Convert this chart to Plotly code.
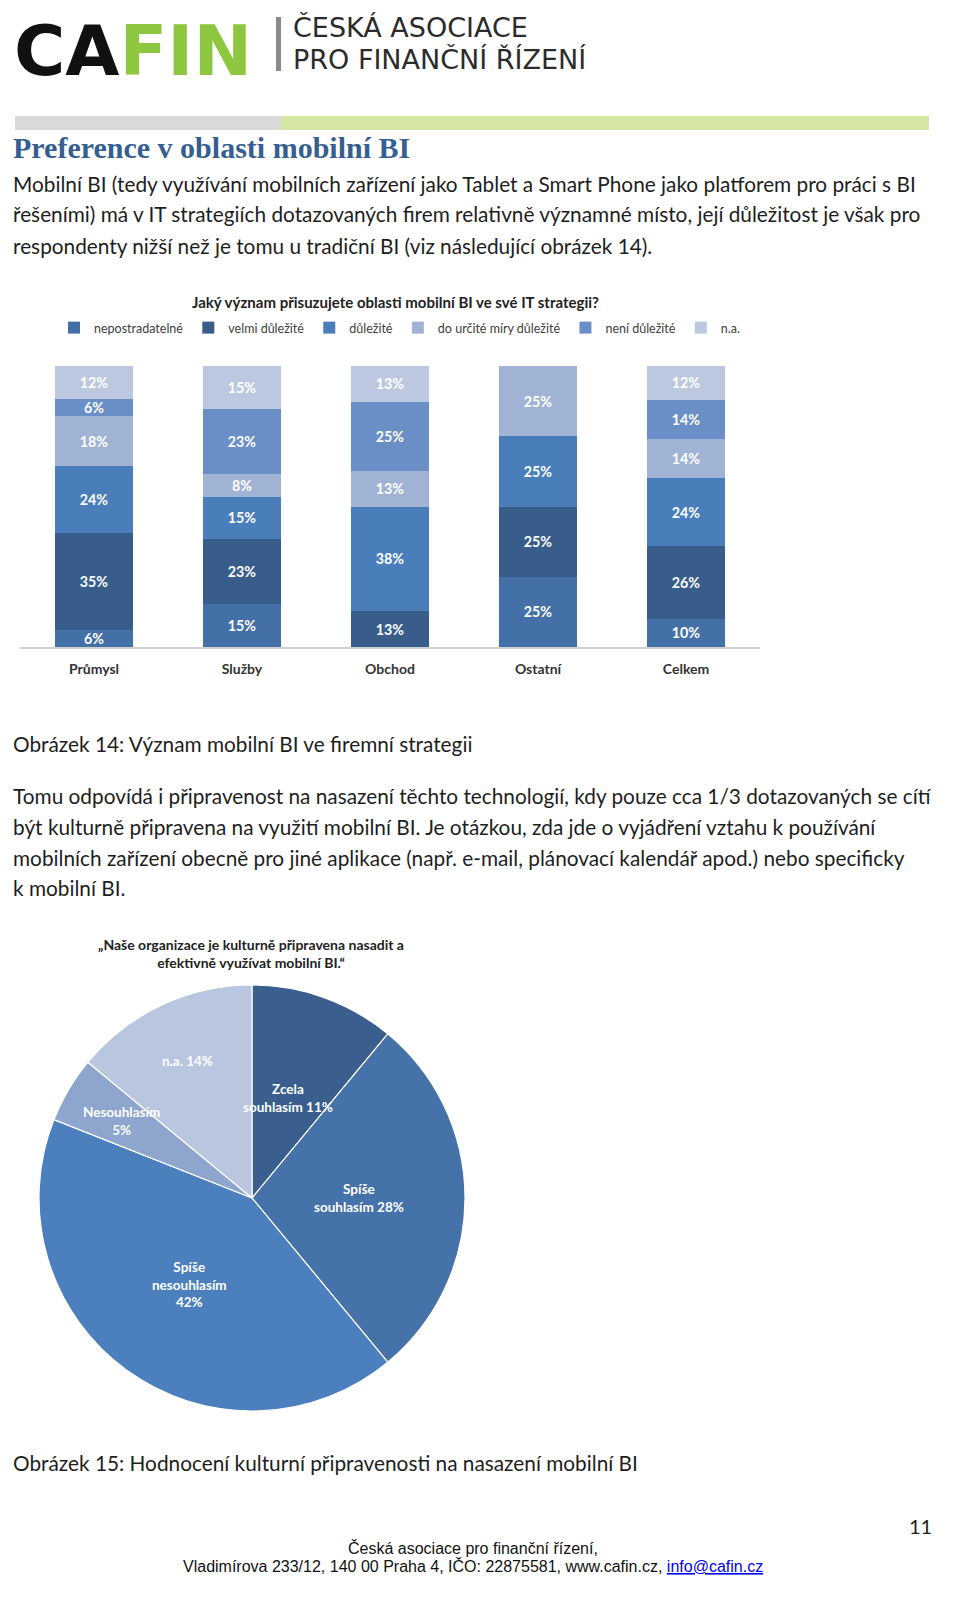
import math
import plotly.graph_objects as go

W, H = 960, 1621

def py(px):
    return 1 - px / H

def pxx(px):
    return px / W

# ---------------- data ----------------
bar_categories = ["Průmysl", "Služby", "Obchod", "Ostatní", "Celkem"]
bar_series = ["nepostradatelné", "velmi důležité", "důležité",
              "do určité míry důležité", "není důležité", "n.a."]
v_nepostradatelne = [6, 15, None, 25, 10]
v_velmi = [35, 23, 13, 25, 26]
v_dulezite = [24, 15, 38, 25, 24]
v_do_urcite = [18, 8, 13, 25, 14]
v_neni = [6, 23, 25, None, 14]
v_na = [12, 15, 13, None, 12]
bar_values = [v_nepostradatelne, v_velmi, v_dulezite, v_do_urcite, v_neni, v_na]
bar_colors = ["#4470A8", "#385D8A", "#4A7EBB", "#A0B3D5", "#6A8FC6", "#BCC8DF"]
bar_title = "Jaký význam přisuzujete oblasti mobilní BI ve své IT strategii?"

pie_labels = ["Zcela souhlasím", "Spíše souhlasím", "Spíše nesouhlasím",
              "Nesouhlasím", "n.a."]
pie_display = ["Zcela<br>souhlasím 11%", "Spíše<br>souhlasím 28%",
               "Spíše<br>nesouhlasím<br>42%", "Nesouhlasím<br>5%", "n.a. 14%"]
pie_values = [11, 28, 42, 5, 14]
pie_colors = ["#3A5F8E", "#4672AA", "#4B7FBD", "#8EA5CE", "#B9C6E0"]
pie_label_radius = [0.5, 0.5, 0.5, 0.71, 0.71]
pie_title = "„Naše organizace je kulturně připravena nasadit a<br>efektivně využívat mobilní BI.“"

heading = "Preference v oblasti mobilní BI"
para1 = [
    "Mobilní BI (tedy využívání mobilních zařízení jako Tablet a Smart Phone jako platforem pro práci s BI",
    "řešeními) má v IT strategiích dotazovaných firem relativně významné místo, její důležitost je však pro",
    "respondenty nižší než je tomu u tradiční BI (viz následující obrázek 14).",
]
caption14 = "Obrázek 14: Význam mobilní BI ve firemní strategii"
para2 = [
    "Tomu odpovídá i připravenost na nasazení těchto technologií, kdy pouze cca 1/3 dotazovaných se cítí",
    "být kulturně připravena na využití mobilní BI. Je otázkou, zda jde o vyjádření vztahu k používání",
    "mobilních zařízení obecně pro jiné aplikace (např. e-mail, plánovací kalendář apod.) nebo specificky",
    "k mobilní BI.",
]
caption15 = "Obrázek 15: Hodnocení kulturní připravenosti na nasazení mobilní BI"
footer1 = "Česká asociace pro finanční řízení,"
footer2 = ("Vladimírova 233/12, 140 00 Praha 4, IČO: 22875581, www.cafin.cz, "
           "<span style='color:#0000EE'><u>info@cafin.cz</u></span>")
page_no = "11"

BODY_FONT = "Lato, Open Sans, sans-serif"
CHART_FONT = "Lato, Open Sans, sans-serif"
BODY_SIZE = 20.8

fig = go.Figure()

# ---------------- stacked bar chart ----------------
for name, vals, col in zip(bar_series, bar_values, bar_colors):
    fig.add_trace(go.Bar(
        x=bar_categories, y=vals, name=name,
        marker=dict(color=col, line=dict(width=0)),
        text=[("%d%%" % v) if v else "" for v in vals],
        textposition="inside", insidetextanchor="middle",
        textfont=dict(color="white", size=14.5, family=CHART_FONT, weight="bold"),
        hoverinfo="skip", xaxis="x", yaxis="y",
    ))

# ---------------- pie chart ----------------
PIE_L, PIE_R, PIE_T, PIE_B = 31, 457, 977, 1403
fig.add_trace(go.Pie(
    labels=pie_labels, values=pie_values,
    textinfo="none",
    marker=dict(colors=pie_colors, line=dict(color="white", width=1.2)),
    sort=False, direction="clockwise", rotation=0,
    domain=dict(x=[pxx(PIE_L), pxx(PIE_R)], y=[py(PIE_B), py(PIE_T)]),
    showlegend=False, hoverinfo="skip",
))

fig.update_layout(
    width=W, height=H,
    margin=dict(l=0, r=0, t=0, b=0),
    paper_bgcolor="white", plot_bgcolor="white",
    barmode="stack", barnorm="percent", bargap=0.47,
    uniformtext=dict(minsize=13, mode="show"),
    xaxis=dict(domain=[pxx(12), pxx(752)], showline=True, linecolor="#D0D0D0",
               linewidth=2, ticks="", showgrid=False, zeroline=False,
               ticklabelstandoff=8,
               tickfont=dict(size=14, color="#333333", family=CHART_FONT, weight="bold"),
               anchor="y"),
    yaxis=dict(domain=[py(639), py(358)], range=[0, 100], visible=False,
               showgrid=False, zeroline=False, anchor="x"),
    legend=dict(orientation="h", x=pxx(46), xanchor="left", y=py(320),
                yanchor="middle", font=dict(size=12.5, color="#404040", family=CHART_FONT),
                itemwidth=30, traceorder="normal", bgcolor="rgba(0,0,0,0)"),
    showlegend=True,
    font=dict(family=BODY_FONT),
)

ann = []
shapes = []

def text(x, y, s, size, color="#1E1E1E", family=BODY_FONT, anchor="left", bold=False, **kw):
    ann.append(dict(x=pxx(x), y=py(y), xref="paper", yref="paper", text=s,
                    showarrow=False, xanchor=anchor, yanchor="middle",
                    font=dict(size=size, color=color, family=family,
                              weight="bold" if bold else "normal"), **kw))

# ---------------- pie labels (positioned from slice angles) ----------------
cx, cy = (PIE_L + PIE_R) / 2, (PIE_T + PIE_B) / 2
rad = (PIE_R - PIE_L) / 2
total = sum(pie_values)
cum = 0
for lab, v, f in zip(pie_display, pie_values, pie_label_radius):
    mid = (cum + v / 2) / total * 2 * math.pi
    cum += v
    lx = cx + rad * f * math.sin(mid)
    ly = cy - rad * f * math.cos(mid)
    ann.append(dict(x=pxx(lx), y=py(ly), xref="paper", yref="paper", text=lab,
                    showarrow=False, xanchor="center", yanchor="middle", align="center",
                    font=dict(size=13.5, color="white", family=CHART_FONT, weight="bold")))

# ---------------- header / logo ----------------
ann.append(dict(x=pxx(4), y=1, xref="paper", yref="paper",
                text="<span style='color:#111111'>CA</span><span style='color:#8DC63F'>FIN</span>",
                showarrow=False, xanchor="left", yanchor="top",
                font=dict(size=70, family="DejaVu Sans", weight="bold")))
for yy in [25, 37, 50]:
    shapes.append(dict(type="line", xref="paper", yref="paper",
                       x0=pxx(6), x1=pxx(245), y0=py(yy), y1=py(yy + 2),
                       line=dict(color="white", width=1.5)))
shapes.append(dict(type="rect", xref="paper", yref="paper", x0=pxx(268), x1=pxx(273),
                   y0=py(63), y1=py(9), fillcolor="#8A8A8A", line=dict(width=0)))
text(283, 19, "ČESKÁ ASOCIACE", 27, color="#2B2B2B", family="DejaVu Sans")
text(283, 52, "PRO FINANČNÍ ŘÍZENÍ", 27, color="#2B2B2B", family="DejaVu Sans")

shapes.append(dict(type="rect", xref="paper", yref="paper", x0=pxx(7), x1=pxx(273),
                   y0=py(122), y1=py(108), fillcolor="#D9D9D9", line=dict(width=0)))
shapes.append(dict(type="rect", xref="paper", yref="paper", x0=pxx(273), x1=pxx(921),
                   y0=py(122), y1=py(108), fillcolor="#D4E5A5", line=dict(width=0)))

# ---------------- body text ----------------
text(3, 139, heading, 30, color="#365F91", family="Liberation Serif, DejaVu Serif", bold=True)
for i, line in enumerate(para1):
    text(3, 175 + 31 * i, line, BODY_SIZE)

text(387, 294, bar_title, 15, color="#222222", family=CHART_FONT, anchor="center", bold=True)

text(3, 735, caption14, BODY_SIZE)
for i, line in enumerate(para2):
    text(3, 787 + 31 * i, line, BODY_SIZE)

ann.append(dict(x=pxx(243), y=py(945), xref="paper", yref="paper", text=pie_title,
                showarrow=False, xanchor="center", yanchor="middle",
                font=dict(size=14, color="#222222", family=CHART_FONT, weight="bold")))

text(3, 1454, caption15, BODY_SIZE)
text(926, 1518, page_no, 20, anchor="right")
text(465, 1540, footer1, 16, family="Liberation Sans Narrow, Liberation Sans", anchor="center", color="#111111")
text(465, 1558, footer2, 16, family="Liberation Sans Narrow, Liberation Sans", anchor="center", color="#111111")

fig.update_layout(annotations=ann, shapes=shapes)
fig.write_html("out.html")
